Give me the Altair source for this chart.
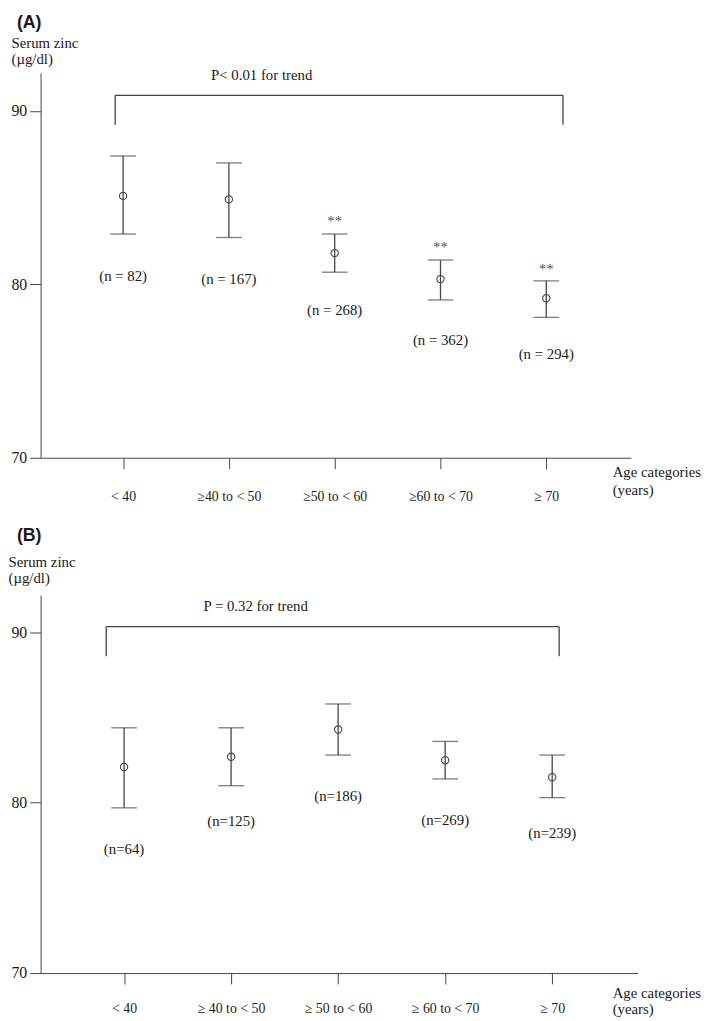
import altair as alt
import pandas as pd

# ---------------- data ----------------
cats_a = ["< 40", "≥40 to < 50", "≥50 to < 60", "≥60 to < 70", "≥ 70"]
mean_a = [85.1, 84.9, 81.8, 80.3, 79.2]
upper_a = [87.4, 87.0, 82.9, 81.4, 80.2]
lower_a = [82.9, 82.7, 80.7, 79.1, 78.1]
nlab_a = ["(n = 82)", "(n = 167)", "(n = 268)", "(n = 362)", "(n = 294)"]
nlab_y_a = [80.5, 80.3, 78.5, 76.8, 76.0]
stars_a = ["", "", "**", "**", "**"]
star_y_a = [0, 0, 83.66, 82.14, 80.89]
p_text_a = "P< 0.01 for trend"

cats_b = ["< 40", "≥ 40 to < 50", "≥ 50 to < 60", "≥ 60 to < 70", "≥ 70"]
mean_b = [82.1, 82.7, 84.3, 82.5, 81.5]
upper_b = [84.4, 84.4, 85.8, 83.6, 82.8]
lower_b = [79.7, 81.0, 82.8, 81.4, 80.3]
nlab_b = ["(n=64)", "(n=125)", "(n=186)", "(n=269)", "(n=239)"]
nlab_y_b = [77.3, 78.9, 80.4, 79.0, 78.2]
stars_b = ["", "", "", "", ""]
star_y_b = [0, 0, 0, 0, 0]
p_text_b = "P = 0.32 for trend"

y_ticks = [70, 80, 90]
y_title = ["Serum zinc", "(µg/dl)"]
x_title = ["Age categories", "(years)"]

LINE = "#444444"
TXT = "#1a1a1a"
SERIF = "Liberation Serif"


def panel(tag, cats, mean, upper, lower, nlab, nlab_y, stars, star_y, ptext,
          bracket, ptext_pos, w, h, tag_y, ytitle_x, ytitle_y, ytitle_lh,
          xtitle_y, xtitle_lh, xlabel_pad):
    idx = list(range(1, len(cats) + 1))
    df = pd.DataFrame({"i": idx, "mean": mean, "upper": upper, "lower": lower,
                       "nlab": nlab, "nlab_y": nlab_y, "star": stars, "star_y": star_y})
    label_expr = "[" + ",".join("'" + c + "'" for c in cats) + "][datum.value - 1]"

    xs = alt.Scale(domain=[0.22, 5.8], nice=False, zero=False)
    ys = alt.Scale(domain=[70, 92.2], nice=False, zero=False)

    xax = alt.Axis(values=idx, labelExpr=label_expr, title=x_title, grid=False,
                   domainColor=LINE, tickColor=LINE, tickSize=11,
                   labelPadding=xlabel_pad, labelFont=SERIF, labelFontSize=14,
                   labelColor=TXT, titleFont=SERIF, titleFontSize=15,
                   titleFontWeight="normal", titleColor=TXT, titleAngle=0,
                   titleAlign="left", titleBaseline="top", titleX=579,
                   titleY=xtitle_y, titleLineHeight=xtitle_lh)
    yax = alt.Axis(values=y_ticks, title=y_title, grid=False, domainColor=LINE,
                   tickColor=LINE, tickSize=11, labelPadding=3, labelFont=SERIF,
                   labelFontSize=16, labelColor=TXT, titleFont=SERIF,
                   titleFontSize=15, titleFontWeight="normal", titleColor=TXT,
                   titleAngle=0, titleAlign="left", titleBaseline="top",
                   titleX=ytitle_x, titleY=ytitle_y, titleLineHeight=ytitle_lh)

    base = alt.Chart(df)
    rule = base.mark_rule(color=LINE, strokeWidth=1.3).encode(
        x=alt.X("i:Q", scale=xs, axis=xax),
        y=alt.Y("lower:Q", scale=ys, axis=yax),
        y2="upper:Q")
    cap_u = base.mark_tick(color=LINE, thickness=1.3, size=26, orient="horizontal").encode(
        x="i:Q", y="upper:Q")
    cap_l = base.mark_tick(color=LINE, thickness=1.3, size=26, orient="horizontal").encode(
        x="i:Q", y="lower:Q")
    pts = base.mark_point(shape="circle", filled=False, size=55, color=LINE,
                          strokeWidth=1.1, opacity=1).encode(x="i:Q", y="mean:Q")
    ntext = base.mark_text(font=SERIF, fontSize=15, color=TXT, baseline="middle").encode(
        x="i:Q", y="nlab_y:Q", text="nlab:N")
    star = base.transform_filter("datum.star != ''").mark_text(
        font=SERIF, fontSize=15, color="#555555", baseline="middle").encode(
        x="i:Q", y="star_y:Q", text="star:N")

    bl, br, btop, bbot = bracket
    br_df = pd.DataFrame({"x": [bl, bl, br], "x2": [br, bl, br],
                          "y": [btop, bbot, bbot], "y2": [btop, btop, btop]})
    brk = alt.Chart(br_df).mark_rule(color=LINE, strokeWidth=1.3).encode(
        x="x:Q", x2="x2:Q", y="y:Q", y2="y2:Q")

    p_df = pd.DataFrame({"x": [ptext_pos[0]], "y": [ptext_pos[1]], "t": [ptext]})
    ptx = alt.Chart(p_df).mark_text(font=SERIF, fontSize=15, color=TXT,
                                    baseline="middle").encode(x="x:Q", y="y:Q", text="t:N")

    tag_df = pd.DataFrame({"t": [tag]})
    tg = alt.Chart(tag_df).mark_text(font="Liberation Sans", fontSize=18,
                                     fontWeight="bold", color=TXT, align="left",
                                     baseline="middle").encode(
        x=alt.value(-24), y=alt.value(tag_y), text="t:N")

    return alt.layer(rule, cap_u, cap_l, pts, ntext, star, brk, ptx, tg).properties(
        width=w, height=h)


pa = panel("(A)", cats_a, mean_a, upper_a, lower_a, nlab_a, nlab_y_a, stars_a, star_y_a,
           p_text_a, (0.925, 5.158, 90.9, 89.2), (2.31, 92.05), 598, 390,
           -50, -30, -38, 17, 7, 18, 21)
pb = panel("(B)", cats_b, mean_b, upper_b, lower_b, nlab_b, nlab_y_b, stars_b, star_y_b,
           p_text_b, (0.833, 5.065, 90.34, 88.6), (2.23, 91.52), 605, 383,
           -60, -33, -41, 16, 13, 16, 18)

chart = alt.vconcat(pa, pb, spacing=24).properties(
    padding=0, background="white").configure_view(stroke=None)

chart.save("out.html", embed_options={"renderer": "svg", "actions": False})
